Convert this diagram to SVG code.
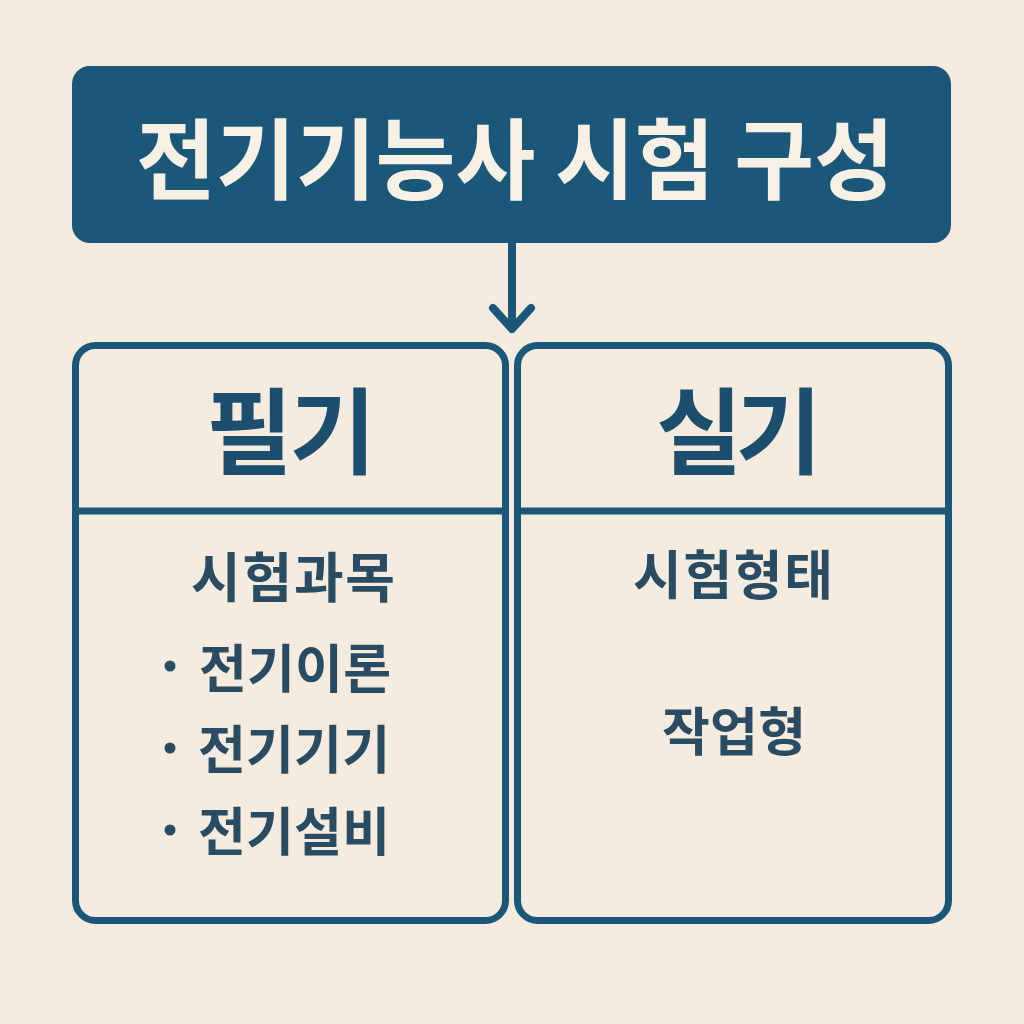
<svg xmlns="http://www.w3.org/2000/svg" width="1024" height="1024" viewBox="0 0 1024 1024">
<defs><style>
text{font-family:"Noto Sans CJK KR","Noto Sans",sans-serif;text-anchor:middle}
.box{fill:none;stroke:#1b5779;stroke-width:7}
.line{fill:none;stroke:#1b5779;stroke-width:8;stroke-linecap:round;stroke-linejoin:round}
.h{font-size:94px;font-weight:700;fill:#1c4e6e}
.b{font-size:52px;font-weight:700;fill:#2a4c62}
.d{fill:#2a4c62}
</style></defs>
<rect width="1024" height="1024" fill="#f5ecdf"/>
<g id="title"><rect x="72" y="66" width="879" height="177" rx="18" fill="#1b5779"/>
<text x="515" y="192" font-size="88" font-weight="700" fill="#f7f0e4" textLength="758" lengthAdjust="spacingAndGlyphs">전기기능사 시험 구성</text></g>
<g id="connectors"><path class="line" d="M512 243V329M493 308L512 329L531 308"/></g>
<g id="written"><rect class="box" x="75.500" y="345.500" width="430" height="575" rx="20"/>
<path class="box" d="M76 511H505"/>
<text class="h" x="291" y="467" textLength="170" lengthAdjust="spacing">필기</text>
<text class="b" x="293" y="598" textLength="204" style="font-size:54px">시험과목</text>
<circle class="d" cx="170" cy="666" r="5.500"/><text class="b" x="295" y="688" textLength="192">전기이론</text>
<circle class="d" cx="170" cy="748" r="5.500"/><text class="b" x="294" y="769" textLength="192">전기기기</text>
<circle class="d" cx="170" cy="830" r="5.500"/><text class="b" x="294" y="851" textLength="192">전기설비</text></g>
<g id="practical"><rect class="box" x="517.500" y="345.500" width="431" height="575" rx="20"/>
<path class="box" d="M518 511H948"/>
<text class="h" x="739" y="467" textLength="166" lengthAdjust="spacing">실기</text>
<text class="b" x="733" y="595" textLength="200" style="font-size:53px">시험형태</text>
<text class="b" x="734" y="751" textLength="144">작업형</text></g>
</svg>
